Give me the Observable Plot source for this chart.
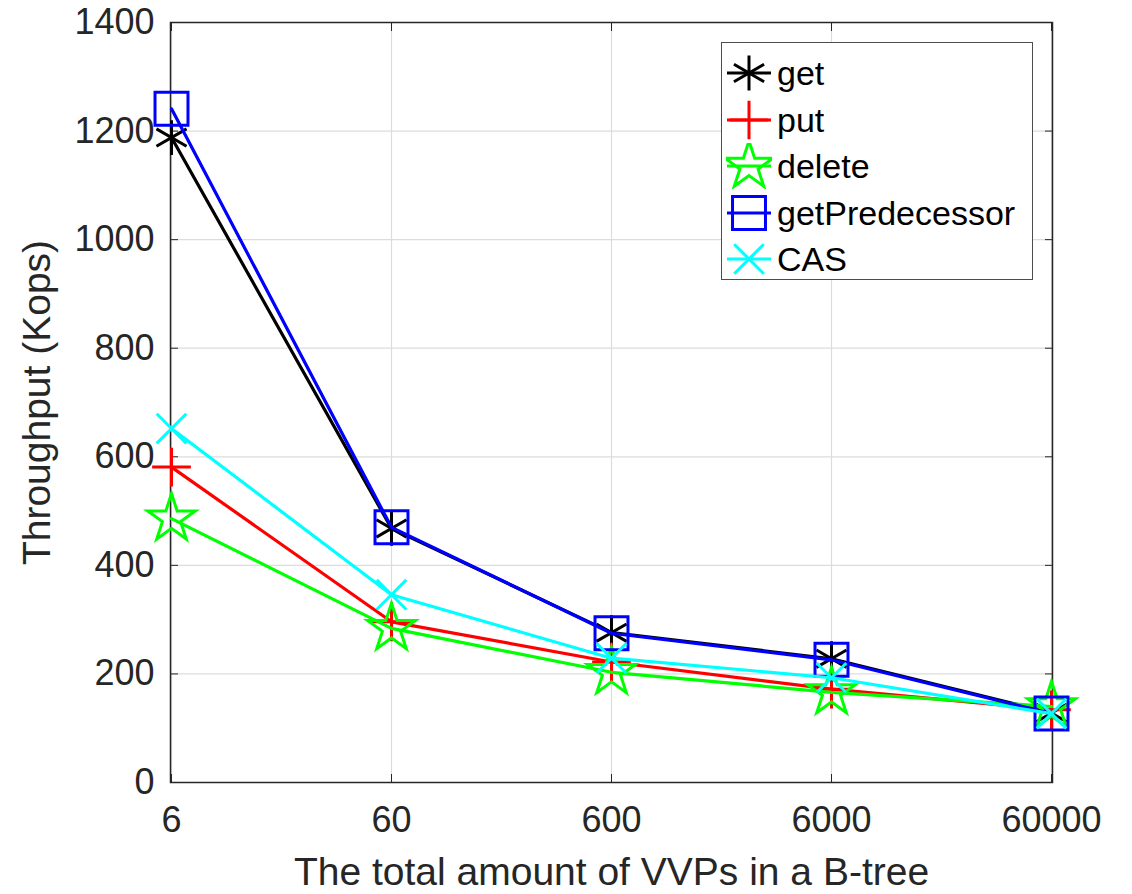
<!DOCTYPE html>
<html>
<head>
<meta charset="utf-8">
<script src="https://cdn.jsdelivr.net/npm/d3@7"></script>
<script src="https://cdn.jsdelivr.net/npm/@observablehq/plot@0.6"></script>
<style>
  body { margin: 0; background: #fff; }
  #wrap { position: relative; width: 1132px; height: 894px; }
  #legend {
    position: absolute; left: 721px; top: 42px; width: 312px; height: 238px;
    border: 1.5px solid #4d4d4d; background: #fff; box-sizing: border-box;
    font-family: "Liberation Sans", Arial, sans-serif; font-size: 34px; color: #000;
  }
  .row { position: absolute; left: 4px; height: 46px; display: flex; align-items: center; }
  .row svg { display: block; }
  .row span { margin-left: 5px; line-height: 46px; }
</style>
</head>
<body>
<div id="wrap"><div id="legend"></div></div>
<script>
// ---- data ----
const xLabels = ["6", "60", "600", "6000", "60000"];
const yTicks = [0, 200, 400, 600, 800, 1000, 1200, 1400];
const seriesNames = ["get", "put", "delete", "getPredecessor", "CAS"];
const getValues = [1188, 468, 276, 228, 128];
const putValues = [581, 296, 222, 172, 134];
const deleteValues = [486, 284, 203, 166, 140];
const getPredecessorValues = [1241, 470, 275, 226, 127];
const casValues = [652, 346, 229, 193, 127];

const seriesColors = ["#000000", "#ff0000", "#00ff00", "#0000ff", "#00ffff"];
const seriesSymbols = ["asterisk", "plus", "star", "square", "times"];
const seriesR = [16.5, 12.5, 15, 18.6, 13.5];
const seriesValues = [getValues, putValues, deleteValues, getPredecessorValues, casValues];

const series = seriesNames.map((name, k) => ({
  name, color: seriesColors[k], symbol: seriesSymbols[k], r: seriesR[k],
  rows: seriesValues[k].map((v, i) => ({series: name, x: xLabels[i], y: v}))
}));

const font = "Liberation Sans, Arial, Helvetica, sans-serif";
const marks = [
  Plot.gridY(yTicks, {stroke: "#dcdcdc", strokeOpacity: 1, strokeWidth: 1.2}),
  Plot.gridX(xLabels, {stroke: "#dcdcdc", strokeOpacity: 1, strokeWidth: 1.2}),
  Plot.frame({stroke: "#262626", strokeWidth: 1.5}),
  // inward tick marks on all four sides
  Plot.axisY(yTicks, {anchor: "left", tickSize: -8, tickFormat: () => "", label: null, stroke: "#262626"}),
  Plot.axisY(yTicks, {anchor: "right", tickSize: -8, tickFormat: () => "", label: null, stroke: "#262626"}),
  Plot.axisX(xLabels, {anchor: "bottom", tickSize: -8, tickFormat: () => "", label: null, stroke: "#262626"}),
  Plot.axisX(xLabels, {anchor: "top", tickSize: -8, tickFormat: () => "", label: null, stroke: "#262626"}),
  // tick labels
  Plot.axisY(yTicks, {anchor: "left", tickSize: 0, tickPadding: 16, fontSize: 36, label: null, tickFormat: d => String(d)}),
  Plot.axisX(xLabels, {anchor: "bottom", tickSize: 0, tickPadding: 24, fontSize: 36, label: null}),
  // axis titles
  Plot.axisY([], {anchor: "left", tickSize: 0, label: "Throughput (Kops)", labelAnchor: "center", labelArrow: "none", labelOffset: 148, fontSize: 39}),
  Plot.axisX([], {anchor: "bottom", tickSize: 0, label: "The total amount of VVPs in a B-tree", labelAnchor: "center", labelArrow: "none", labelOffset: 102, fontSize: 39})
];
for (const s of series) {
  marks.push(Plot.line(s.rows, {x: "x", y: "y", stroke: s.color, strokeWidth: 3.2}));
  marks.push(Plot.dot(s.rows, {x: "x", y: "y", symbol: s.symbol, r: s.r, stroke: s.color, strokeWidth: 3, fill: "none"}));
}

const chart = Plot.plot({
  width: 1132, height: 894,
  marginLeft: 170, marginRight: 80, marginTop: 22, marginBottom: 112,
  style: {fontFamily: font, color: "#262626", background: "white", overflow: "visible"},
  x: {type: "point", domain: xLabels, padding: 0, label: null},
  y: {domain: [0, 1400], label: null},
  marks
});
document.getElementById("wrap").prepend(chart);

// ---- legend ----
const legend = d3.select("#legend");
series.forEach((s, k) => {
  const row = legend.append("div").attr("class", "row").style("top", (7 + k * 46.5) + "px");
  const svg = row.append("svg").attr("width", 46).attr("height", 46);
  svg.append("line").attr("x1", 1).attr("x2", 45).attr("y1", 23).attr("y2", 23)
    .attr("stroke", s.color).attr("stroke-width", 3.2);
  const symType = {asterisk: d3.symbolAsterisk, plus: d3.symbolPlus, star: d3.symbolStar, square: d3.symbolSquare, times: d3.symbolTimes}[s.symbol];
  svg.append("path").attr("transform", "translate(23,23)")
    .attr("d", d3.symbol(symType, Math.PI * s.r * s.r)())
    .attr("fill", "none").attr("stroke", s.color).attr("stroke-width", 3);
  row.append("span").text(s.name);
});
</script>
</body>
</html>
